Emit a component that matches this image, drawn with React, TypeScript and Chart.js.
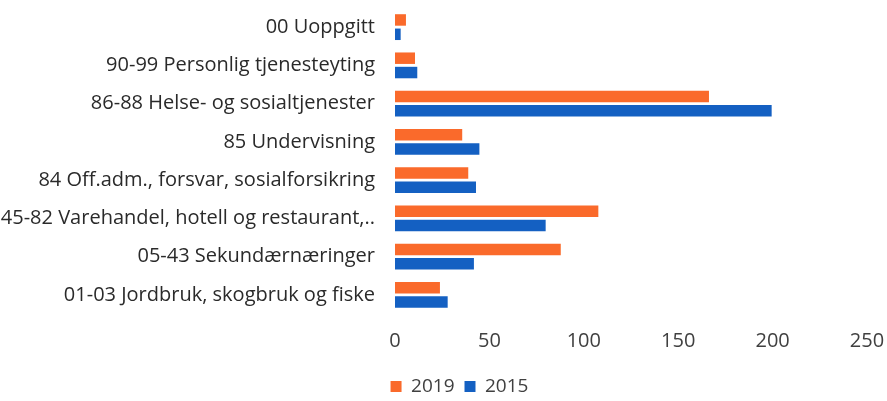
import React, { useEffect, useRef } from "react";
import { Chart, registerables } from "chart.js";

Chart.register(...registerables);

const categories = [
  "00 Uoppgitt",
  "90-99 Personlig tjenesteyting",
  "86-88 Helse- og sosialtjenester",
  "85 Undervisning",
  "84 Off.adm., forsvar, sosialforsikring",
  "45-82 Varehandel, hotell og restaurant,..",
  "05-43 Sekundærnæringer",
  "01-03 Jordbruk, skogbruk og fiske",
];
const values2019 = [5.8, 10.6, 166.3, 35.6, 38.8, 107.7, 87.8, 23.8];
const values2015 = [3.0, 11.8, 199.5, 44.7, 42.9, 79.8, 41.8, 27.9];
const xTicks = [0, 50, 100, 150, 200, 250];

const shiftLegend = {
  id: "shiftLegend",
  afterLayout(chart: any) {
    if (chart.legend) {
      chart.legend.left += 26;
      chart.legend.right += 26;
    }
  },
};

export default function App() {
  const ref = useRef<HTMLCanvasElement | null>(null);
  useEffect(() => {
    if (!ref.current) return;
    const font = { family: "Open Sans", size: 20 };
    const chart = new Chart(ref.current, {
      type: "bar",
      data: {
        labels: categories,
        datasets: [
          { label: "2019", data: values2019, backgroundColor: "#FA6A2B", categoryPercentage: 0.75, barPercentage: 0.8 },
          { label: "2015", data: values2015, backgroundColor: "#1460C2", categoryPercentage: 0.75, barPercentage: 0.8 },
        ],
      },
      plugins: [shiftLegend],
      options: {
        indexAxis: "y",
        responsive: false,
        animation: false,
        layout: { padding: { top: 8, right: 20, bottom: -5, left: 0 } },
        scales: {
          x: {
            min: 0,
            max: 250,
            afterBuildTicks: (s: any) => {
              s.ticks = xTicks.map((v) => ({ value: v }));
            },
            afterFit: (s: any) => {
              s.height -= 1;
              s.paddingLeft = 0;
              s.paddingRight = 0;
            },
            grid: { display: false, drawTicks: false },
            border: { display: false },
            ticks: { color: "#404040", font, padding: 15 },
          },
          y: {
            afterFit: (s: any) => {
              s.paddingTop = 0;
              s.paddingBottom = 0;
              s.width = 395;
            },
            grid: { display: false, drawTicks: false },
            border: { display: false },
            ticks: { color: "#2a2a2a", font, padding: 20 },
          },
        },
        plugins: {
          legend: {
            position: "bottom",
            labels: { boxWidth: 11, boxHeight: 11, color: "#404040", font: { family: "Open Sans", size: 19 }, padding: 10 },
          },
          tooltip: { enabled: false },
        },
      },
    });
    return () => chart.destroy();
  }, []);
  return (
    <div style={{ position: "fixed", left: 0, top: 0, width: 887, height: 401, background: "#fff" }}>
      <canvas ref={ref} width={887} height={401} />
    </div>
  );
}
